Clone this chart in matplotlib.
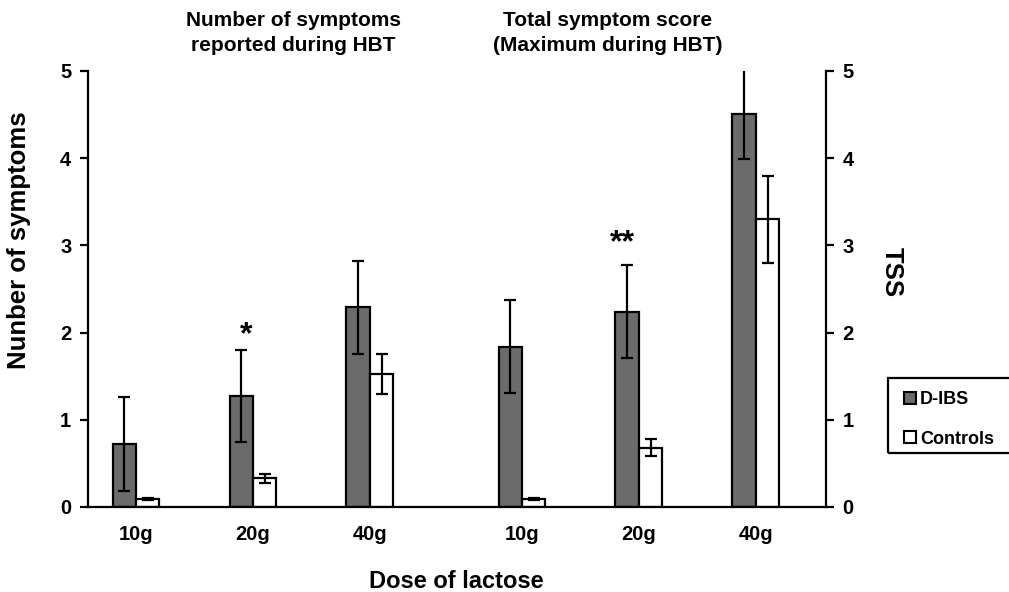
import matplotlib.pyplot as plt
from matplotlib.lines import Line2D
from matplotlib.patches import Rectangle

plt.rcParams['font.family'] = ['Liberation Sans', 'DejaVu Sans']
plt.rcParams['font.weight'] = 'bold'

# data
doses = ['10g', '20g', '40g', '10g', '20g', '40g']
xpos = [0, 1, 2, 3.3, 4.3, 5.3]
dibs = [0.72, 1.27, 2.29, 1.84, 2.24, 4.51]
dibs_err = [0.54, 0.53, 0.53, 0.53, 0.53, 0.52]
ctrl = [0.09, 0.33, 1.53, 0.09, 0.68, 3.30]
ctrl_err = [0.01, 0.05, 0.23, 0.01, 0.10, 0.50]
star_x = [0.94, 4.16]
star_y = [1.97, 3.02]
star_txt = ['*', '**']

gray = '#6b6b6b'
w = 0.2

fig = plt.figure(figsize=(10.09, 5.92), dpi=100)
ax = fig.add_axes([88/1009, 1-507/592, (826-88)/1009, (507-71)/592])

err_kw = dict(ecolor='black', elinewidth=1.6, capsize=4, capthick=1.6)
ax.bar([x - w/2 for x in xpos], dibs, w, color=gray, edgecolor='black', linewidth=1.6,
       yerr=dibs_err, error_kw=err_kw, zorder=2)
ax.bar([x + w/2 for x in xpos], ctrl, w, color='white', edgecolor='black', linewidth=1.6,
       yerr=ctrl_err, error_kw=err_kw, zorder=2)

for x, y, s in zip(star_x, star_y, star_txt):
    ax.text(x, y, s, ha='center', va='center', fontsize=23, fontweight='bold')

ax.set_xlim(-0.41, 5.90)
ax.set_ylim(0, 5)
ax.set_yticks([0, 1, 2, 3, 4, 5])
ax.set_xticks(xpos)
ax.set_xticklabels(doses)
ax.tick_params(axis='x', length=0, pad=13, labelsize=14.5)
ax.tick_params(axis='y', direction='out', length=6, width=1.6, pad=6, labelsize=14.5)
for s in ['left', 'right', 'bottom']:
    ax.spines[s].set_linewidth(1.6)
ax.spines['top'].set_visible(False)

ax2 = ax.twinx()
ax2.set_ylim(0, 5)
ax2.set_yticks([0, 1, 2, 3, 4, 5])
ax2.tick_params(axis='y', direction='out', length=6, width=1.6, pad=6, labelsize=14.5)
for s in ax2.spines.values():
    s.set_visible(False)

ax.set_ylabel('Nunber of symptoms', fontsize=18.5, fontweight='bold', va='center')
ax.yaxis.set_label_coords(-0.0935, 0.612)
ax2.set_ylabel('TSS', fontsize=18.5, fontweight='bold', rotation=270, va='center')
ax2.yaxis.set_label_coords(1.089, 0.539)
fig.text(456/1009, 1-581/592, 'Dose of lactose', ha='center', va='center',
         fontsize=17, fontweight='bold')

fig.text(293/1009, 1-33/592, 'Number of symptoms\nreported during HBT', ha='center', va='center',
         fontsize=15, fontweight='bold', linespacing=1.35)
fig.text(608/1009, 1-33/592, 'Total symptom score\n(Maximum during HBT)', ha='center', va='center',
         fontsize=15, fontweight='bold', linespacing=1.35)

handles = [Line2D([], [], ls='none', marker='s', markersize=8, markerfacecolor=gray,
                  markeredgecolor='black', markeredgewidth=1.5),
           Line2D([], [], ls='none', marker='s', markersize=8, markerfacecolor='white',
                  markeredgecolor='black', markeredgewidth=1.5)]
fig.legend(handles, ['D-IBS', 'Controls'], loc='upper left',
           bbox_to_anchor=(894/1009, 1-382/592), frameon=False,
           handlelength=0.8, handletextpad=0.15, labelspacing=1.25, borderpad=0,
           prop={'weight': 'bold', 'size': 13})
fig.patches.append(Rectangle((888/1009, 1-453/592), 130/1009, 75/592, transform=fig.transFigure,
                             fill=False, edgecolor='black', linewidth=1.6))

fig.savefig('out.png', dpi=100)
